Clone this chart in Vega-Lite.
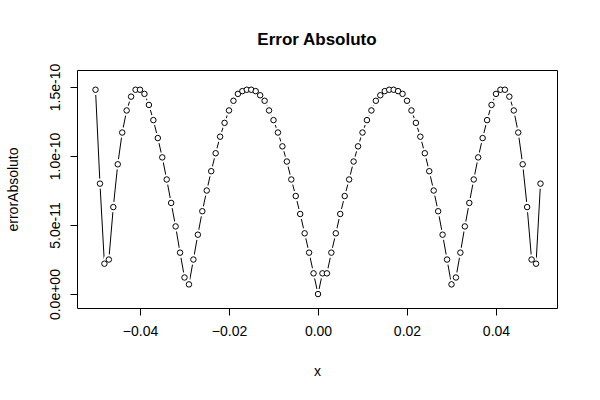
{
"$schema":"https://vega.github.io/schema/vega-lite/v6.json",
"width":480,"height":238,
"autosize":{"type":"none"},
"padding":{"left":77,"top":70,"right":43,"bottom":92},
"background":"white",
"config":{"view":{"stroke":"black","strokeWidth":1},"font":"Liberation Sans"},
"title":{"text":"Error Absoluto","fontSize":17,"fontWeight":"bold","font":"Liberation Sans","color":"black","offset":14},
"data":{"values":[
{"x":-0.050,"y":1.48e-10},{"x":-0.049,"y":0.80e-10},{"x":-0.048,"y":0.22e-10},{"x":-0.047,"y":0.25e-10},{"x":-0.046,"y":0.63e-10},{"x":-0.045,"y":0.94e-10},{"x":-0.044,"y":1.17e-10},{"x":-0.043,"y":1.33e-10},{"x":-0.042,"y":1.43e-10},{"x":-0.041,"y":1.48e-10},{"x":-0.040,"y":1.48e-10},{"x":-0.039,"y":1.45e-10},{"x":-0.038,"y":1.37e-10},{"x":-0.037,"y":1.26e-10},{"x":-0.036,"y":1.13e-10},{"x":-0.035,"y":0.99e-10},{"x":-0.034,"y":0.83e-10},{"x":-0.033,"y":0.66e-10},{"x":-0.032,"y":0.49e-10},{"x":-0.031,"y":0.30e-10},{"x":-0.030,"y":0.12e-10},{"x":-0.029,"y":0.07e-10},{"x":-0.028,"y":0.25e-10},{"x":-0.027,"y":0.43e-10},{"x":-0.026,"y":0.60e-10},{"x":-0.025,"y":0.75e-10},{"x":-0.024,"y":0.89e-10},{"x":-0.023,"y":1.02e-10},{"x":-0.022,"y":1.14e-10},{"x":-0.021,"y":1.24e-10},{"x":-0.020,"y":1.33e-10},{"x":-0.019,"y":1.40e-10},{"x":-0.018,"y":1.45e-10},{"x":-0.017,"y":1.47e-10},{"x":-0.016,"y":1.48e-10},{"x":-0.015,"y":1.48e-10},{"x":-0.014,"y":1.47e-10},{"x":-0.013,"y":1.44e-10},{"x":-0.012,"y":1.40e-10},{"x":-0.011,"y":1.33e-10},{"x":-0.010,"y":1.26e-10},{"x":-0.009,"y":1.17e-10},{"x":-0.008,"y":1.07e-10},{"x":-0.007,"y":0.96e-10},{"x":-0.006,"y":0.83e-10},{"x":-0.005,"y":0.71e-10},{"x":-0.004,"y":0.58e-10},{"x":-0.003,"y":0.44e-10},{"x":-0.002,"y":0.30e-10},{"x":-0.001,"y":0.15e-10},{"x":0.000,"y":0.0},
{"x":0.001,"y":0.15e-10},{"x":0.002,"y":0.15e-10},{"x":0.003,"y":0.30e-10},{"x":0.004,"y":0.44e-10},{"x":0.005,"y":0.58e-10},{"x":0.006,"y":0.71e-10},{"x":0.007,"y":0.83e-10},{"x":0.008,"y":0.96e-10},{"x":0.009,"y":1.07e-10},{"x":0.010,"y":1.17e-10},{"x":0.011,"y":1.26e-10},{"x":0.012,"y":1.33e-10},{"x":0.013,"y":1.40e-10},{"x":0.014,"y":1.44e-10},{"x":0.015,"y":1.47e-10},{"x":0.016,"y":1.48e-10},{"x":0.017,"y":1.48e-10},{"x":0.018,"y":1.47e-10},{"x":0.019,"y":1.45e-10},{"x":0.020,"y":1.40e-10},{"x":0.021,"y":1.33e-10},{"x":0.022,"y":1.24e-10},{"x":0.023,"y":1.14e-10},{"x":0.024,"y":1.02e-10},{"x":0.025,"y":0.89e-10},{"x":0.026,"y":0.75e-10},{"x":0.027,"y":0.60e-10},{"x":0.028,"y":0.43e-10},{"x":0.029,"y":0.25e-10},{"x":0.030,"y":0.07e-10},{"x":0.031,"y":0.12e-10},{"x":0.032,"y":0.30e-10},{"x":0.033,"y":0.49e-10},{"x":0.034,"y":0.66e-10},{"x":0.035,"y":0.83e-10},{"x":0.036,"y":0.99e-10},{"x":0.037,"y":1.13e-10},{"x":0.038,"y":1.26e-10},{"x":0.039,"y":1.37e-10},{"x":0.040,"y":1.45e-10},{"x":0.041,"y":1.48e-10},{"x":0.042,"y":1.48e-10},{"x":0.043,"y":1.43e-10},{"x":0.044,"y":1.33e-10},{"x":0.045,"y":1.17e-10},{"x":0.046,"y":0.94e-10},{"x":0.047,"y":0.63e-10},{"x":0.048,"y":0.25e-10},{"x":0.049,"y":0.22e-10},{"x":0.050,"y":0.80e-10}
]},
"encoding":{
"x":{"field":"x","type":"quantitative","scale":{"domain":[-0.05416,0.05371],"nice":false,"zero":false},
"axis":{"values":[-0.04,-0.02,0,0.02,0.04],"format":".2f","title":"x","grid":false,"domain":false,"tickColor":"black","tickSize":7,"labelColor":"black","labelFontSize":14,"labelPadding":9,"titleFontSize":14,"titleFontWeight":"normal","titleColor":"black","titlePadding":26,"labelFont":"Liberation Sans","titleFont":"Liberation Sans"}},
"y":{"field":"y","type":"quantitative","scale":{"domain":[-1.01e-11,1.623e-10],"nice":false,"zero":false},
"axis":{"values":[0,5e-11,1e-10,1.5e-10],"labelExpr":"datum.value==0?'0.0e+00':datum.value<7e-11?'5.0e-11':datum.value<1.2e-10?'1.0e-10':'1.5e-10'","title":"errorAbsoluto","grid":false,"domain":false,"tickColor":"black","tickSize":7,"labelAngle":-90,"labelAlign":"center","labelBaseline":"bottom","labelPadding":8,"labelColor":"black","labelFontSize":14,"titleFontSize":14,"titleFontWeight":"normal","titleColor":"black","titlePadding":28,"labelFont":"Liberation Sans","titleFont":"Liberation Sans"}}
},
"layer":[
{"mark":{"type":"line","color":"black","strokeWidth":1}},
{"mark":{"type":"point","shape":"circle","size":30,"stroke":"white","strokeWidth":5,"fill":"white","filled":false,"opacity":1}},
{"mark":{"type":"point","shape":"circle","size":30,"color":"black","strokeWidth":1,"fill":"white","filled":false,"opacity":1}}
]
}
